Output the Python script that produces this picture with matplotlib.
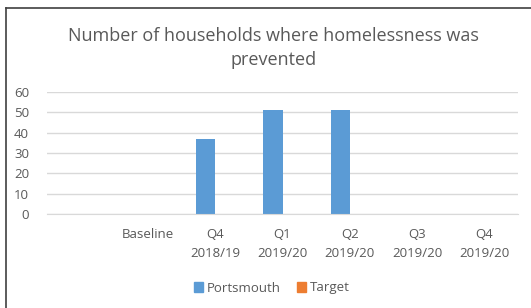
import numpy as np
import matplotlib.pyplot as plt
from matplotlib.lines import Line2D

categories = ["", "Baseline", "Q4\n2018/19", "Q1\n2019/20", "Q2\n2019/20", "Q3\n2019/20", "Q4\n2019/20"]
portsmouth = [np.nan, np.nan, 37, 51, 51, np.nan, np.nan]
target = [np.nan] * 7

plt.rcParams['font.family'] = ['Open Sans', 'DejaVu Sans']
grey = '#595959'

fig = plt.figure(figsize=(5.31, 3.08), dpi=100)
ax = fig.add_axes([47 / 531, 1 - 214 / 308, 471 / 531, 122 / 308])

x = np.arange(len(categories))
w = 0.285
ax.bar(x - w / 2, portsmouth, w, color='#5b9bd5', label='Portsmouth')
ax.bar(x + w / 2, target, w, color='#ed7d31', label='Target')

ax.set_xlim(-0.5, len(categories) - 0.5)
ax.set_ylim(0, 60)
ax.set_yticks(range(0, 61, 10))
ax.set_xticks(x)
ax.set_xticklabels(categories, linespacing=1.65)
ax.grid(axis='y', color='#d9d9d9', linewidth=1)
ax.set_axisbelow(True)
for s in ['top', 'right', 'left']:
    ax.spines[s].set_visible(False)
ax.spines['bottom'].set_color('#d9d9d9')
ax.tick_params(length=0, colors=grey, labelsize=9.5)
ax.tick_params(axis='x', pad=10)
ax.tick_params(axis='y', pad=13)

fig.text(0.515, 1 - 48 / 308, "Number of households where homelessness was\nprevented",
         ha='center', va='center', fontsize=13, color=grey, linespacing=1.4)

handles = [plt.Rectangle((0, 0), 1, 1, color='#5b9bd5'), plt.Rectangle((0, 0), 1, 1, color='#ed7d31')]
fig.legend(handles, ['Portsmouth', 'Target'], loc='center', bbox_to_anchor=(0.512, 1 - 288 / 308),
           ncol=2, frameon=False, fontsize=9.5, labelcolor=grey, handlelength=0.7, handleheight=0.7,
           handletextpad=0.3, columnspacing=1.2)

fig.add_artist(Line2D([6 / 531, 6 / 531], [0, 1 - 8 / 308], transform=fig.transFigure, color='#404040', linewidth=1.2))
fig.add_artist(Line2D([6 / 531, 1], [1 - 8 / 308, 1 - 8 / 308], transform=fig.transFigure, color='#404040', linewidth=1.2))

fig.savefig('out.png', dpi=100)
